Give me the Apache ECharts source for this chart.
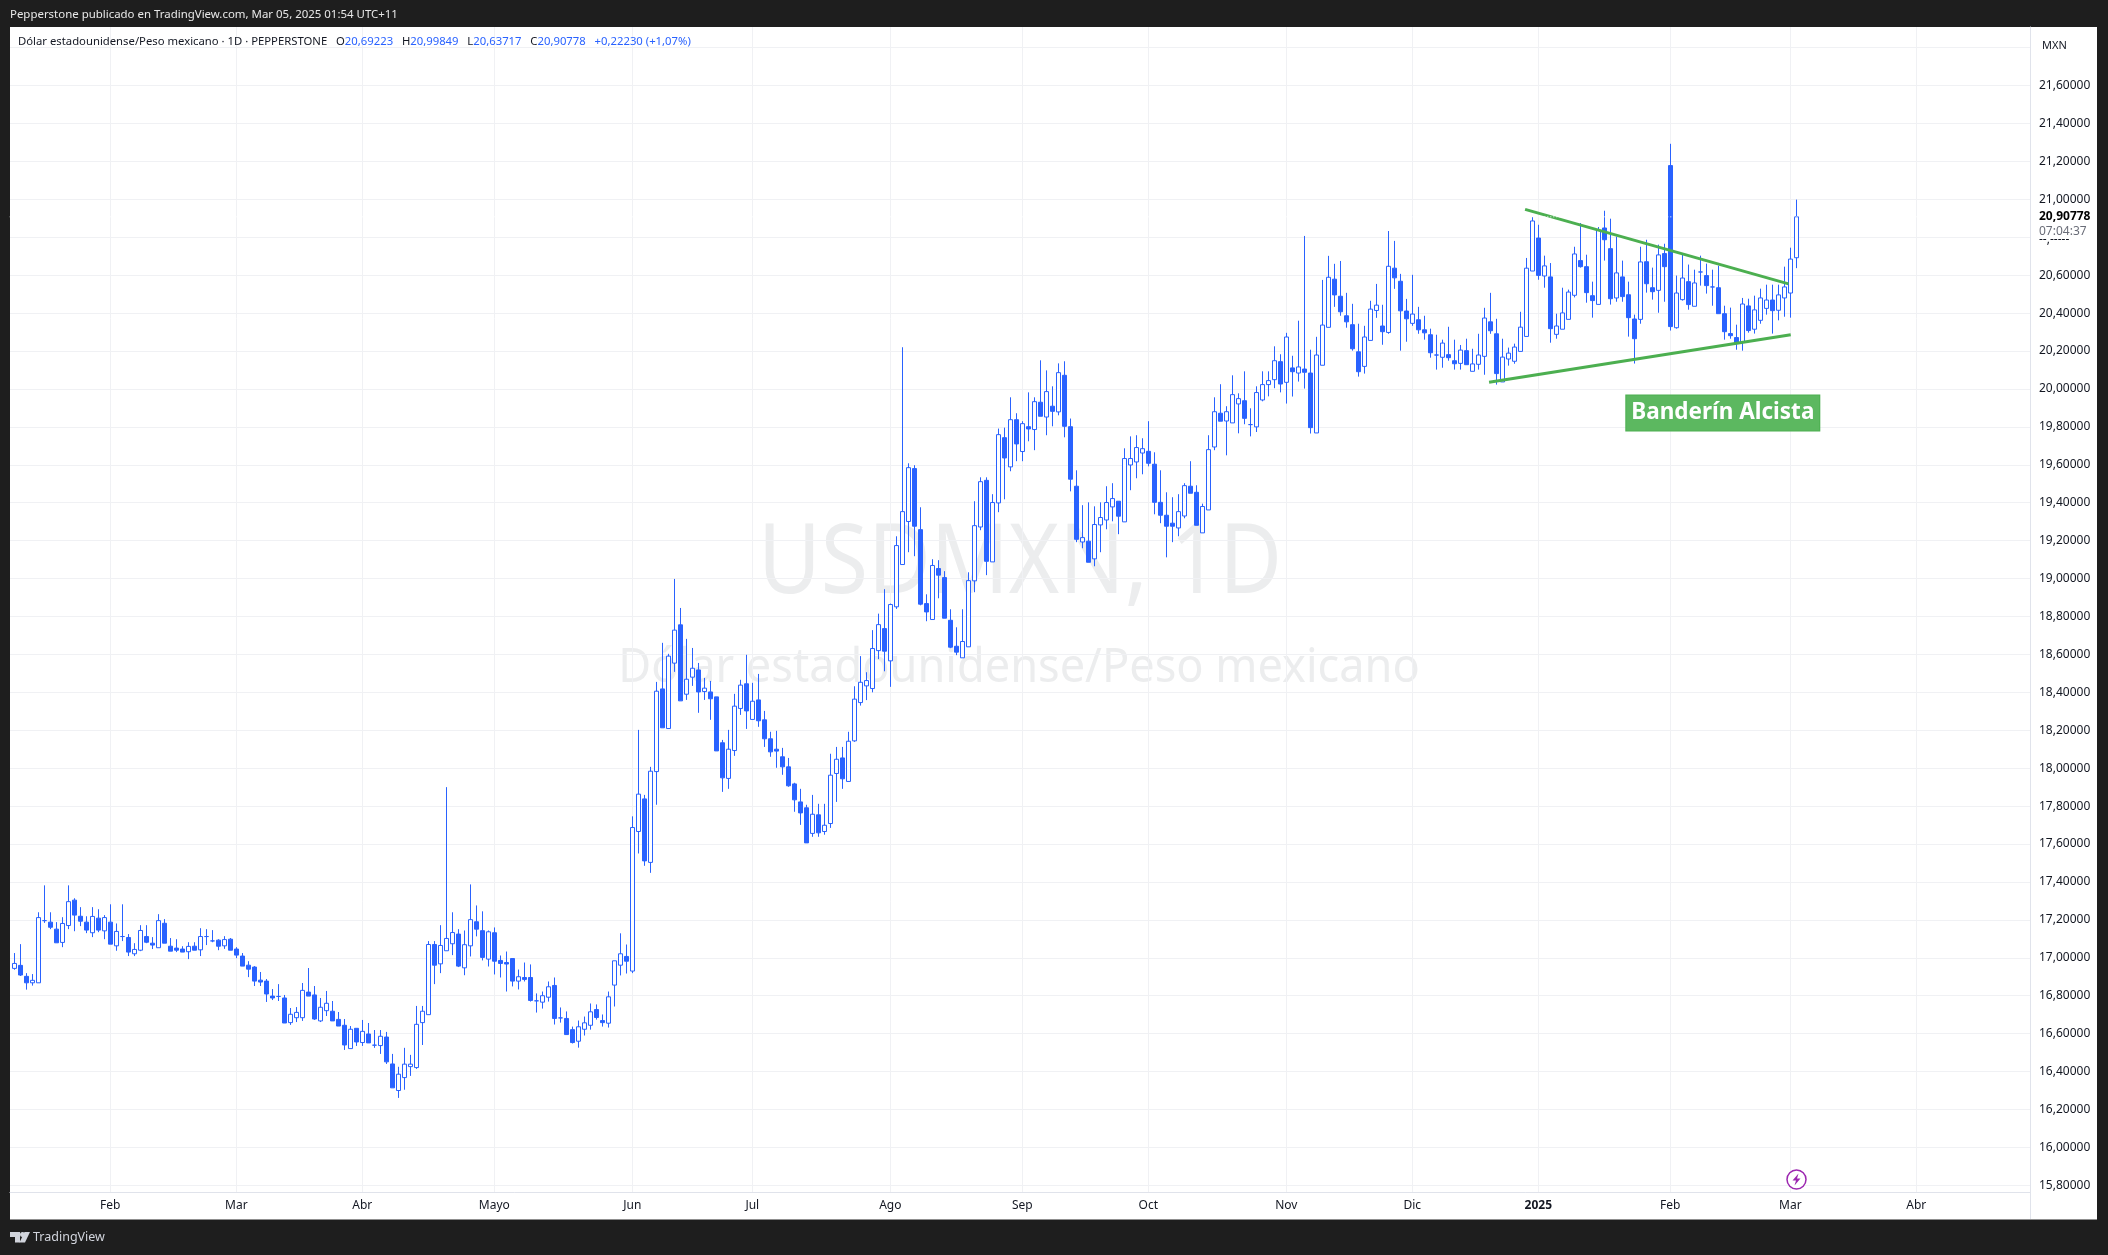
<!DOCTYPE html>
<html>
<head>
<meta charset="utf-8">
<title>USDMXN, 1D</title>
<script src="https://cdn.jsdelivr.net/npm/echarts@6/dist/echarts.min.js"></script>
<style>
  html, body { margin: 0; padding: 0; background: #1e1e1e; }
  #chart { width: 2108px; height: 1255px; }
</style>
</head>
<body>
<div id="chart"></div>
<script>
// daily bars
var opens = [
  16.944,16.960,16.902,16.868,16.868,17.196,17.188,17.151,17.081,17.170,
  17.304,17.219,17.188,17.132,17.209,17.142,17.188,17.063,17.112,17.107,
  17.021,17.040,17.112,17.077,17.053,17.182,17.061,17.051,17.046,17.032,
  17.061,17.042,17.112,17.089,17.093,17.063,17.098,17.046,17.009,16.961,
  16.951,16.882,16.877,16.798,16.796,16.788,16.658,16.684,16.684,16.819,
  16.804,16.667,16.721,16.718,16.675,16.644,16.521,16.628,16.553,16.598,
  16.539,16.537,16.582,16.440,16.300,16.368,16.426,16.421,16.658,16.700,
  17.070,16.968,17.037,17.074,17.125,16.947,17.063,17.190,17.143,16.993,
  17.132,16.986,16.975,16.996,16.877,16.896,16.896,16.773,16.766,16.792,
  16.854,16.683,16.680,16.621,16.560,16.623,16.644,16.727,16.669,16.655,
  16.856,16.961,17.007,16.930,17.666,17.838,17.503,17.982,18.418,18.209,
  18.554,18.756,18.390,18.480,18.518,18.404,18.402,18.376,18.134,17.946,
  18.093,18.315,18.445,18.257,18.360,18.255,18.155,18.100,18.060,18.007,
  17.917,17.822,17.791,17.656,17.754,17.666,17.708,17.972,18.054,17.930,
  18.144,18.346,18.434,18.420,18.620,18.736,18.566,18.851,19.074,19.301,
  19.580,19.258,18.868,18.784,19.053,19.005,18.780,18.643,18.582,18.640,
  18.988,19.272,19.518,19.088,19.399,19.743,19.589,19.838,19.670,19.801,
  19.786,19.930,19.852,19.909,19.879,20.072,19.801,19.487,19.193,19.197,
  19.104,19.283,19.309,19.378,19.408,19.299,19.599,19.615,19.662,19.671,
  19.603,19.402,19.334,19.292,19.267,19.330,19.487,19.455,19.241,19.362,
  19.694,19.872,19.831,19.821,19.921,19.938,19.812,19.800,19.942,20.023,
  20.049,20.144,20.035,20.111,20.084,20.105,20.084,19.768,20.125,20.325,
  20.579,20.489,20.386,20.339,20.196,20.119,20.256,20.414,20.332,20.298,
  20.637,20.568,20.411,20.346,20.365,20.312,20.286,20.179,20.167,20.181,
  20.149,20.135,20.202,20.093,20.130,20.172,20.354,20.291,20.037,20.158,
  20.146,20.198,20.277,20.622,20.796,20.596,20.591,20.288,20.315,20.367,
  20.494,20.677,20.645,20.492,20.446,20.849,20.740,20.480,20.591,20.497,
  20.369,20.367,20.671,20.534,20.520,20.714,21.178,20.323,20.471,20.566,
  20.436,20.617,20.598,20.538,20.534,20.397,20.292,20.271,20.248,20.438,
  20.315,20.362,20.425,20.469,20.415,20.480,20.506,20.69223
];
var closes = [
  16.970,16.909,16.868,16.881,17.212,17.196,17.161,17.079,17.181,17.296,
  17.225,17.193,17.146,17.218,17.146,17.212,17.072,17.139,17.112,17.030,
  17.044,17.144,17.082,17.067,17.196,17.077,17.035,17.040,17.030,17.060,
  17.040,17.112,17.112,17.089,17.061,17.096,17.040,17.014,16.956,16.940,
  16.877,16.872,16.809,16.788,16.796,16.656,16.702,16.712,16.828,16.798,
  16.677,16.739,16.760,16.667,16.640,16.540,16.623,16.556,16.612,16.551,
  16.539,16.586,16.451,16.314,16.386,16.439,16.439,16.649,16.718,17.070,
  16.961,17.065,17.102,17.133,16.956,17.069,17.201,17.151,17.002,17.137,
  16.982,16.970,16.967,16.877,16.900,16.886,16.775,16.773,16.800,16.847,
  16.680,16.683,16.595,16.553,16.636,16.657,16.715,16.685,16.658,16.794,
  16.984,17.021,16.982,17.687,17.863,17.511,17.984,18.406,18.213,18.591,
  18.728,18.355,18.469,18.527,18.402,18.422,18.366,18.091,17.949,18.100,
  18.327,18.438,18.302,18.353,18.250,18.155,18.086,18.090,18.007,17.907,
  17.833,17.764,17.606,17.757,17.659,17.699,17.963,18.047,17.944,18.142,
  18.364,18.453,18.462,18.631,18.757,18.617,18.863,19.174,19.353,19.585,
  19.276,18.865,18.824,19.069,19.018,18.791,18.638,18.612,18.668,18.989,
  19.279,19.511,19.091,19.401,19.759,19.636,19.838,19.710,19.817,19.789,
  19.933,19.856,19.986,19.882,20.086,19.803,19.524,19.207,19.216,19.086,
  19.285,19.322,19.401,19.422,19.329,19.633,19.633,19.691,19.685,19.608,
  19.402,19.334,19.276,19.276,19.353,19.490,19.450,19.281,19.380,19.680,
  19.880,19.830,19.880,19.970,19.949,19.845,19.812,19.981,20.023,20.044,
  20.149,20.026,20.274,20.091,20.116,20.088,19.796,20.179,20.337,20.589,
  20.496,20.407,20.354,20.212,20.091,20.274,20.421,20.442,20.302,20.647,
  20.586,20.412,20.370,20.395,20.312,20.296,20.191,20.179,20.242,20.165,
  20.133,20.205,20.128,20.132,20.179,20.374,20.307,20.081,20.168,20.189,
  20.221,20.326,20.637,20.886,20.599,20.649,20.318,20.332,20.401,20.511,
  20.712,20.645,20.508,20.466,20.838,20.787,20.476,20.612,20.487,20.376,
  20.265,20.670,20.555,20.513,20.707,20.645,20.329,20.506,20.585,20.445,
  20.559,20.617,20.545,20.538,20.397,20.302,20.281,20.244,20.448,20.308,
  20.417,20.480,20.469,20.413,20.496,20.538,20.685,20.90778
];
var lows = [
  16.937,16.904,16.832,16.853,16.868,17.184,17.151,17.079,17.056,17.151,
  17.140,17.167,17.130,17.109,17.135,17.098,17.072,17.037,17.088,17.009,
  17.009,17.035,17.077,17.046,17.053,17.077,17.035,17.030,17.030,16.993,
  17.040,17.009,17.067,17.082,17.040,17.047,17.040,16.998,16.956,16.898,
  16.851,16.851,16.767,16.777,16.772,16.656,16.646,16.661,16.667,16.798,
  16.672,16.661,16.693,16.667,16.640,16.514,16.521,16.535,16.535,16.551,
  16.525,16.493,16.440,16.314,16.261,16.304,16.377,16.414,16.540,16.700,
  16.861,16.919,17.037,17.014,16.951,16.908,17.007,17.113,16.986,16.954,
  16.912,16.896,16.822,16.849,16.833,16.875,16.769,16.711,16.732,16.769,
  16.648,16.658,16.595,16.548,16.526,16.590,16.621,16.674,16.637,16.632,
  16.743,16.907,16.917,16.919,17.550,17.485,17.448,17.807,18.213,18.209,
  18.508,18.355,18.360,18.434,18.292,18.360,18.255,18.091,17.875,17.891,
  18.065,18.281,18.207,18.257,18.218,18.112,18.060,18.002,17.965,17.902,
  17.770,17.701,17.606,17.638,17.638,17.649,17.685,17.822,17.891,17.930,
  18.139,18.330,18.359,18.400,18.575,18.511,18.429,18.840,19.074,19.139,
  19.118,18.859,18.775,18.784,18.896,18.791,18.633,18.596,18.582,18.640,
  18.928,19.255,19.018,19.088,19.350,19.418,19.566,19.619,19.619,19.724,
  19.677,19.856,19.756,19.803,19.861,19.745,19.460,19.192,19.160,19.086,
  19.065,19.139,19.260,19.302,19.234,19.299,19.466,19.529,19.550,19.592,
  19.339,19.292,19.112,19.192,19.223,19.318,19.450,19.281,19.241,19.362,
  19.677,19.830,19.650,19.821,19.766,19.814,19.750,19.773,19.935,19.961,
  20.004,19.982,19.923,19.960,20.039,20.002,19.765,19.768,20.125,20.325,
  20.433,20.386,20.323,20.202,20.065,20.081,20.256,20.375,20.233,20.291,
  20.528,20.202,20.249,20.333,20.291,20.260,20.165,20.102,20.112,20.149,
  20.102,20.102,20.128,20.093,20.102,20.075,20.291,20.023,20.037,20.123,
  20.133,20.198,20.277,20.622,20.576,20.534,20.244,20.265,20.315,20.367,
  20.483,20.640,20.455,20.376,20.446,20.677,20.445,20.460,20.460,20.276,
  20.134,20.344,20.508,20.471,20.402,20.460,20.308,20.318,20.466,20.418,
  20.436,20.545,20.503,20.439,20.397,20.260,20.265,20.207,20.202,20.297,
  20.292,20.344,20.392,20.292,20.362,20.381,20.376,20.63717
];
var highs = [
  17.025,17.072,16.919,16.914,17.240,17.382,17.240,17.188,17.214,17.382,
  17.314,17.267,17.219,17.267,17.256,17.225,17.282,17.181,17.282,17.125,
  17.077,17.172,17.172,17.109,17.230,17.204,17.104,17.098,17.061,17.082,
  17.082,17.156,17.151,17.146,17.098,17.114,17.104,17.056,17.025,16.982,
  16.956,16.925,16.888,16.835,16.861,16.804,16.735,16.740,16.867,16.946,
  16.851,16.788,16.825,16.772,16.714,16.677,16.640,16.628,16.672,16.656,
  16.619,16.619,16.609,16.493,16.425,16.525,16.488,16.746,16.746,17.088,
  17.088,17.172,17.900,17.240,17.151,17.144,17.387,17.276,17.245,17.144,
  17.160,17.012,17.033,16.996,16.938,16.975,16.965,16.812,16.822,16.875,
  16.896,16.738,16.717,16.637,16.669,16.690,16.759,16.754,16.701,16.822,
  16.984,17.129,17.070,17.746,18.202,17.859,18.007,18.455,18.661,18.603,
  18.998,18.845,18.682,18.634,18.555,18.476,18.460,18.376,18.149,18.202,
  18.392,18.466,18.598,18.450,18.497,18.302,18.192,18.197,18.107,18.054,
  17.923,17.891,17.807,17.859,17.812,17.812,18.076,18.112,18.112,18.192,
  18.432,18.591,18.506,18.728,18.815,18.944,18.868,19.223,20.220,19.608,
  19.598,19.376,18.917,19.102,19.097,19.039,18.838,18.743,18.838,19.033,
  19.408,19.534,19.534,19.445,19.791,19.796,19.956,19.872,19.830,19.982,
  19.956,20.151,20.098,20.014,20.135,20.146,19.844,19.571,19.387,19.402,
  19.381,19.402,19.487,19.503,19.408,19.687,19.750,19.756,19.740,19.830,
  19.666,19.571,19.455,19.429,19.445,19.503,19.619,19.492,19.395,19.756,
  19.956,20.025,19.909,20.072,19.977,20.093,19.898,20.014,20.093,20.093,
  20.225,20.183,20.296,20.175,20.360,20.807,20.207,20.275,20.575,20.702,
  20.660,20.675,20.507,20.449,20.344,20.333,20.465,20.554,20.444,20.833,
  20.781,20.607,20.475,20.602,20.433,20.386,20.318,20.286,20.260,20.328,
  20.260,20.232,20.265,20.212,20.291,20.428,20.507,20.370,20.265,20.218,
  20.239,20.407,20.691,20.907,20.866,20.703,20.664,20.397,20.534,20.524,
  20.750,20.875,20.708,20.566,20.854,20.940,20.898,20.803,20.677,20.566,
  20.392,20.750,20.787,20.640,20.761,20.766,21.293,20.598,20.714,20.656,
  20.629,20.703,20.661,20.629,20.650,20.439,20.429,20.339,20.480,20.476,
  20.492,20.529,20.550,20.550,20.550,20.645,20.745,20.99849
];

// bar index of the first bar of each month
var monthTicks = [16, 37, 58, 80, 103, 123, 146, 168, 189, 212, 233, 254, 276, 296, 317];
var monthLabels = ['Feb','Mar','Abr','Mayo','Jun','Jul','Ago','Sep','Oct','Nov','Dic','2025','Feb','Mar','Abr'];

var priceTicks = [15.8,16,16.2,16.4,16.6,16.8,17,17.2,17.4,17.6,17.8,18,18.2,18.4,18.6,18.8,19,19.2,19.4,19.6,19.8,20,20.2,20.4,20.6,20.8,21,21.2,21.4,21.6,21.8];
var priceLabels = [15.8,16,16.2,16.4,16.6,16.8,17,17.2,17.4,17.6,17.8,18,18.2,18.4,18.6,18.8,19,19.2,19.4,19.6,19.8,20,20.2,20.4,20.6,20.90778,21,21.2,21.4,21.6];
var lastPrice = 20.90778;

// trend lines of the pennant: [bar index, price]
var upperTrend = [[251.8, 20.947], [295.7, 20.554]];
var lowerTrend = [[245.8, 20.035], [296.07, 20.286]];
var bannerPoint = [[284.75, 19.873]];

var BLUE = '#2962ff';
var GREEN = '#4caf50';
var FONT = '"Noto Sans", sans-serif';

var chart = echarts.init(document.getElementById('chart'));

var bars = opens.map(function (o, i) {
  return [i, o, closes[i], lows[i], highs[i]];
});

var option = {
  animation: false,
  backgroundColor: '#1e1e1e',
  textStyle: { fontFamily: FONT },
  grid: { left: 10, top: 27, width: 2020, height: 1165.7, containLabel: false },
  xAxis: {
    type: 'value',
    min: -0.717,
    max: 335.95,
    axisLine: { onZero: false, lineStyle: { color: '#e0e3eb' } },
    axisTick: { show: false, customValues: monthTicks },
    axisLabel: {
      customValues: monthTicks,
      color: '#131722',
      fontSize: 12,
      margin: 7,
      fontFamily: FONT,
      hideOverlap: false,
      showMinLabel: true,
      showMaxLabel: true,
      formatter: function (v) {
        var name = monthLabels[monthTicks.indexOf(v)];
        return name === '2025' ? '{b|2025}' : name;
      },
      rich: { b: { fontWeight: 'bold', fontSize: 12, color: '#131722', fontFamily: FONT } }
    },
    splitLine: { show: true, lineStyle: { color: '#f0f1f4', width: 1 } }
  },
  yAxis: {
    type: 'value',
    position: 'right',
    min: 15.761,
    max: 21.909,
    axisLine: { show: true, onZero: false, lineStyle: { color: '#e0e3eb' } },
    axisTick: { show: false, customValues: priceTicks },
    axisLabel: {
      customValues: priceLabels,
      color: '#131722',
      fontSize: 12,
      margin: 9,
      fontFamily: FONT,
      showMinLabel: true,
      showMaxLabel: true,
      formatter: function (v) {
        var s = v.toFixed(5).replace('.', ',');
        return v === lastPrice ? '{b|' + s + '}' : s;
      },
      rich: { b: { fontWeight: 'bold', fontSize: 12, color: '#000', fontFamily: FONT } }
    },
    splitLine: { show: true, lineStyle: { color: '#f0f1f4', width: 1 } }
  },
  graphic: [
    { type: 'rect', z: -3, shape: { x: 10, y: 27, width: 2087, height: 1192.5 }, style: { fill: '#fff' } },
    { type: 'line', z: 5, shape: { x1: 2030.5, y1: 27, x2: 2030.5, y2: 1219 }, style: { stroke: '#e0e3eb', lineWidth: 1 } },
    // watermark
    { type: 'text', z: -1, x: 1020, y: 566, scaleX: 0.896, style: { text: 'USDMXN, 1D', align: 'center', verticalAlign: 'middle', font: '96px ' + FONT, fill: '#ecedee' } },
    { type: 'text', z: -1, x: 1019, y: 668, scaleX: 0.94, style: { text: 'Dólar estadounidense/Peso mexicano', align: 'center', verticalAlign: 'middle', font: '48px ' + FONT, fill: '#ecedee' } },
    // top strip
    { type: 'text', style: { x: 10, y: 15, text: 'Pepperstone publicado en TradingView.com, Mar 05, 2025 01:54 UTC+11', verticalAlign: 'middle', font: '11.45px ' + FONT, fill: '#e8e8e8' } },
    {
      type: 'text',
      z: 6,
      style: {
        x: 18, y: 42, verticalAlign: 'middle',
        text: 'Dólar estadounidense/Peso mexicano · 1D · PEPPERSTONE   O{v|20,69223}   H{v|20,99849}   L{v|20,63717}   C{v|20,90778}   {v|+0,22230 (+1,07%)}',
        font: '11.3px ' + FONT, fill: '#131722',
        rich: { v: { fill: BLUE, font: '11.3px ' + FONT } }
      }
    },
    { type: 'text', z: 6, style: { x: 2042, y: 45.5, text: 'MXN', verticalAlign: 'middle', font: '11px ' + FONT, fill: '#131722' } },
    { type: 'text', z: 6, style: { x: 2039, y: 231.5, text: '07:04:37', verticalAlign: 'middle', font: '12px ' + FONT, fill: '#6a6d78' } },
    { type: 'text', z: 6, style: { x: 2039, y: 239.5, text: '--,-----', verticalAlign: 'middle', font: '12px ' + FONT, fill: '#131722' } },
    // lightning marker
    { type: 'circle', z: 6, shape: { cx: 1796.5, cy: 1179.5, r: 9.5 }, style: { fill: '#fff', stroke: '#9c27b0', lineWidth: 1.5 } },
    { type: 'polygon', z: 6, shape: { points: [[1798.5, 1173.5], [1792.5, 1180.5], [1796, 1180.5], [1794.5, 1185.5], [1800.5, 1178.5], [1797, 1178.5]] }, style: { fill: '#9c27b0' } },
    // TradingView logo
    { type: 'polygon', shape: { points: [[10, 1232], [20, 1232], [20, 1242.5], [15, 1242.5], [15, 1237], [10, 1237]] }, style: { fill: '#d1d4dc' } },
    { type: 'circle', shape: { cx: 22.5, cy: 1234.5, r: 2.5 }, style: { fill: '#d1d4dc' } },
    { type: 'polygon', shape: { points: [[24.5, 1232], [30, 1232], [25, 1242.5], [19.5, 1242.5]] }, style: { fill: '#d1d4dc' } },
    { type: 'text', style: { x: 33, y: 1237.5, text: 'TradingView', verticalAlign: 'middle', font: '12.5px ' + FONT, fill: '#d1d4dc' } }
  ],
  series: [
    {
      type: 'candlestick',
      data: bars,
      encode: { x: 0, y: [1, 2, 3, 4] },
      barWidth: 5,
      clip: true,
      itemStyle: {
        color: '#ffffff',
        color0: BLUE,
        borderColor: BLUE,
        borderColor0: BLUE,
        borderColorDoji: BLUE,
        borderWidth: 1
      }
    },
    {
      type: 'line',
      data: upperTrend,
      symbol: 'none',
      silent: true,
      z: 3,
      lineStyle: { color: GREEN, width: 3 }
    },
    {
      type: 'line',
      data: lowerTrend,
      symbol: 'none',
      silent: true,
      z: 3,
      lineStyle: { color: GREEN, width: 3 }
    },
    {
      type: 'line',
      data: [[-1, lastPrice], [336, lastPrice]],
      symbol: 'none',
      silent: true,
      z: 4,
      lineStyle: { color: '#ffffff', width: 1, type: [1, 2] }
    },
    {
      type: 'scatter',
      data: bannerPoint,
      symbolSize: 1,
      silent: true,
      z: 4,
      itemStyle: { color: 'transparent', opacity: 1 },
      label: {
        show: true,
        position: 'inside',
        formatter: 'Banderín Alcista',
        color: '#ffffff',
        opacity: 1,
        fontFamily: FONT,
        fontWeight: 'bold',
        fontSize: 22.5,
        backgroundColor: '#5cb860',
        borderColor: GREEN,
        borderWidth: 1,
        width: 193,
        height: 35,
        lineHeight: 35,
        align: 'center',
        verticalAlign: 'middle'
      }
    }
  ]
};

chart.setOption(option);
</script>
</body>
</html>
